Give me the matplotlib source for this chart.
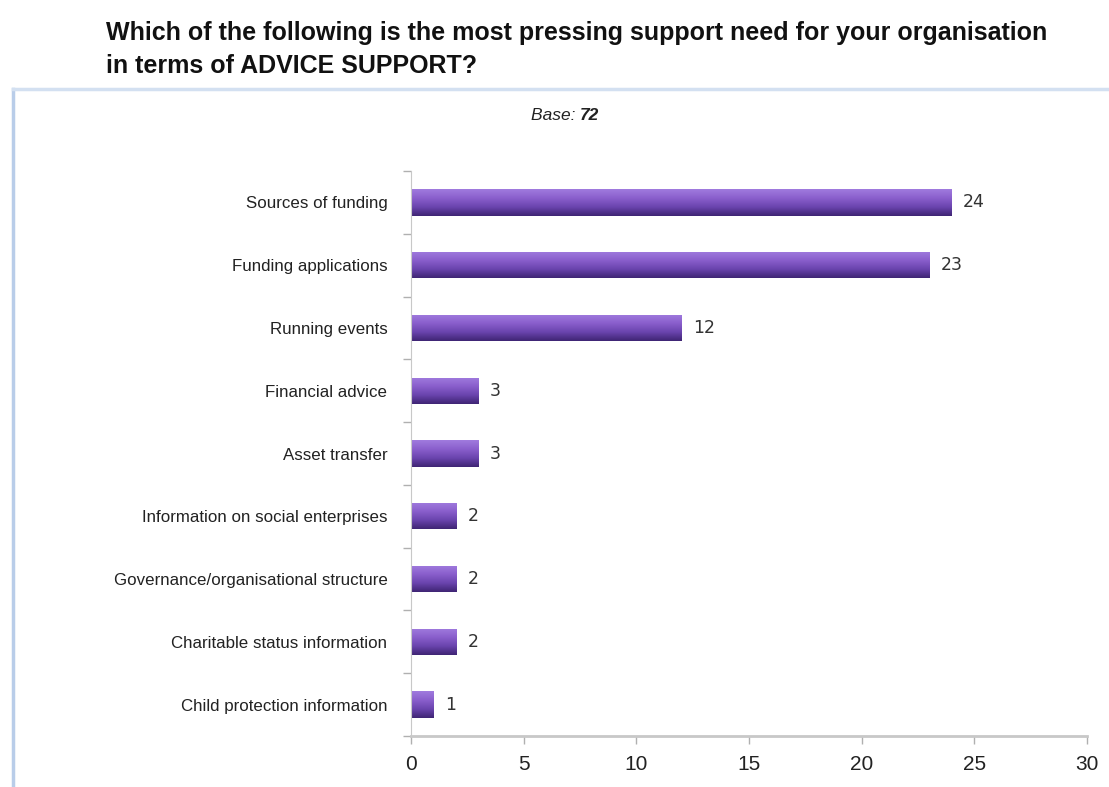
import numpy as np
import matplotlib.pyplot as plt
from matplotlib.colors import LinearSegmentedColormap
from matplotlib.lines import Line2D

categories = ['Sources of funding', 'Funding applications', 'Running events',
              'Financial advice', 'Asset transfer', 'Information on social enterprises',
              'Governance/organisational structure', 'Charitable status information',
              'Child protection information']
counts = [24, 23, 12, 3, 3, 2, 2, 2, 1]
xticks = [0, 5, 10, 15, 20, 25, 30]
base = 72

sans = ['Liberation Sans', 'DejaVu Sans']
purple = LinearSegmentedColormap.from_list('bar', ['#3f2574', '#6a44ae', '#8a5fcc', '#a07ade'])

fig = plt.figure(figsize=(11.09, 7.87), dpi=100)
fig.patch.set_facecolor('white')

# pale blue frame round the chart area
fig.add_artist(Line2D([0.012, 0.012], [0.0, 0.887], color='#b9cde9', lw=2.5, transform=fig.transFigure))
fig.add_artist(Line2D([0.012, 1.0], [0.887, 0.887], color='#d3e0f1', lw=2.5, transform=fig.transFigure))

fig.text(0.096, 0.958, 'Which of the following is the most pressing support need for your organisation',
         family=sans, fontsize=18, fontweight='bold', va='center', ha='left', color='#111111')
fig.text(0.096, 0.916, 'in terms of ADVICE SUPPORT?',
         family=sans, fontsize=18, fontweight='bold', va='center', ha='left', color='#111111')
fig.text(0.523, 0.853, 'Base: ', family=sans, fontsize=12.5, style='italic',
         ha='right', va='center', color='#222222')
fig.text(0.523, 0.853, str(base), family=sans, fontsize=12.5, style='italic', fontweight='bold',
         ha='left', va='center', color='#222222')

ax = fig.add_axes([0.3706, 0.0648, 0.6096, 0.7179])
n = len(categories)
ypos = np.arange(n)[::-1]
h = 0.42
bars = ax.barh(ypos, counts, height=h, color='none', edgecolor='none')

grad = np.linspace(0, 1, 64).reshape(-1, 1)
for bar, v, y in zip(bars, counts, ypos):
    im = ax.imshow(grad, cmap=purple, aspect='auto', origin='lower',
                   extent=(0, v, y - h / 2, y + h / 2), zorder=2)
    im.set_clip_path(bar)
    ax.text(v + 0.5, y, str(v), va='center', ha='left', fontsize=12.5, color='#333333')

ax.set_xlim(0, 30)
ax.set_ylim(-0.5, n - 0.5)
ax.set_xticks(xticks)
ax.set_xticklabels([str(t) for t in xticks], family=sans, fontsize=15, color='#222222')
ax.set_yticks(ypos)
ax.set_yticklabels(categories, family=sans, fontsize=12.2, color='#222222')
ax.set_yticks(np.arange(-0.5, n, 1.0), minor=True)
ax.tick_params(axis='y', which='major', length=0, pad=17)
ax.tick_params(axis='y', which='minor', length=6, color='#b0b0b0', width=1)
ax.tick_params(axis='x', length=6, color='#b0b0b0', width=1, pad=8)

for s in ['top', 'right']:
    ax.spines[s].set_visible(False)
ax.spines['left'].set_color('#c8c8c8')
ax.spines['bottom'].set_color('#c8c8c8')
ax.spines['bottom'].set_linewidth(2)

fig.savefig('out.png', dpi=100)
